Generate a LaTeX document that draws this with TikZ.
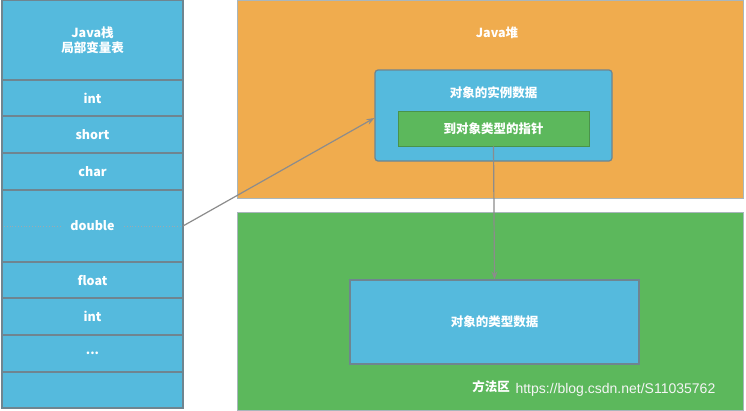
\documentclass[tikz,border=0pt]{standalone}
\usepackage{fontspec}
\setmainfont{Noto Sans CJK SC}
\newfontfamily\wmfont{Liberation Sans}
\usetikzlibrary{arrows.meta}
\definecolor{cblue}{HTML}{55BADD}
\definecolor{corange}{HTML}{F0AC4E}
\definecolor{cgreen}{HTML}{5CB85C}
\definecolor{cline}{HTML}{6F8590}
\tikzset{x=1pt,y=-1pt,
  cell/.style={draw=cline,line width=1.2pt,fill=cblue,text=white,font=\bfseries\fontsize{12.5}{15}\selectfont,inner sep=0pt,align=center},
  region/.style={draw=cline!60,line width=1pt,inner sep=0pt},
  lbl/.style={text=white,font=\bfseries\fontsize{12.5}{15}\selectfont},
  conn/.style={draw=gray!90,line width=1.2pt,-{Stealth[length=8pt,width=6pt]}}}
\begin{document}
\begin{tikzpicture}
\useasboundingbox (0,0) rectangle (746,410);
\fill[white] (0,0) rectangle (746,410);
\node[cell,minimum width=181,minimum height=80] (h) at (92.5,40) {Java栈\\局部变量表};
\node[cell,minimum width=181,minimum height=36] (r1) at (92.5,98) {int};
\node[cell,minimum width=181,minimum height=37] (r2) at (92.5,134.5) {short};
\node[cell,minimum width=181,minimum height=37] (r3) at (92.5,171.5) {char};
\node[cell,minimum width=181,minimum height=72] (r4) at (92.5,226) {double};
\node[cell,minimum width=181,minimum height=36] (r5) at (92.5,280) {float};
\node[cell,minimum width=181,minimum height=37] (r6) at (92.5,316.5) {int};
\node[cell,minimum width=181,minimum height=37] (r7) at (92.5,353.5) {...};
\node[cell,minimum width=181,minimum height=36] (r8) at (92.5,390) {};
\draw[cline!70,dotted,line width=0.8pt] (4,226) -- (62,226) (124,226) -- (181,226);
\node[region,fill=corange,minimum width=506,minimum height=198] (heap) at (490,99) {};
\node[lbl] at (497,33) {Java堆};
\node[cell,rounded corners=3pt,minimum width=237,minimum height=91] (inst) at (493.5,115.5) {};
\node[lbl] at (493.5,93) {对象的实例数据};
\node[cell,fill=cgreen,draw=cgreen!80!black,line width=0.6pt,minimum width=191,minimum height=35] (ptr) at (493.5,128.5) {到对象类型的指针};
\node[region,fill=cgreen,minimum width=506,minimum height=198] (meth) at (490,311) {};
\node[cell,minimum width=289,minimum height=84] (type) at (494.5,322) {对象的类型数据};
\node[lbl] at (491,387) {方法区};
\node[text=white!92!gray,font=\wmfont\fontsize{14}{16}\selectfont,anchor=west] at (512,390) {https://blog.csdn.net/S11035762};
\coordinate (s) at (183,226);
\draw[conn] (s) -- (inst.west|-0,118);
\draw[conn] (ptr.south) -- (type.north);
\end{tikzpicture}
\end{document}
